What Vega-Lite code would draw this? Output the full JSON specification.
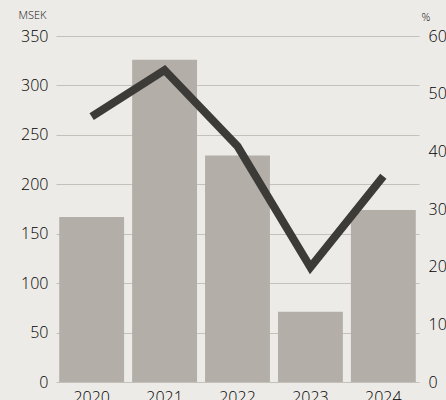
{
  "$schema": "https://vega.github.io/schema/vega-lite/v6.json",
  "autosize": {"type": "none"},
  "padding": {"left": 56, "top": 36, "right": 27, "bottom": 18},
  "width": 363,
  "height": 346,
  "background": "#edebe7",
  "config": {
    "view": {"stroke": null},
    "font": "Open Sans",
    "axis": {"labelFont": "Open Sans", "titleFont": "Open Sans", "labelColor": "#000000", "titleColor": "#111111", "labelFontWeight": 300}
  },
  "data": {
    "values": [
      {"year": "2020", "msek": 167, "pct": 46.0},
      {"year": "2021", "msek": 326, "pct": 54.1},
      {"year": "2022", "msek": 229, "pct": 40.9},
      {"year": "2023", "msek": 71, "pct": 19.9},
      {"year": "2024", "msek": 174, "pct": 35.7}
    ]
  },
  "encoding": {
    "x": {
      "field": "year", "type": "ordinal",
      "scale": {"paddingInner": 0.11, "paddingOuter": 0.044},
      "axis": {"title": null, "labelAngle": 0, "ticks": false, "domain": false, "labelFontSize": 16, "labelPadding": 7, "labelBaseline": "top"}
    }
  },
  "layer": [
    {
      "mark": {"type": "bar", "color": "#b3aea8"},
      "encoding": {
        "y": {
          "field": "msek", "type": "quantitative",
          "scale": {"domain": [0, 350], "nice": false},
          "axis": {
            "values": [0, 50, 100, 150, 200, 250, 300, 350],
            "title": "MSEK", "titleAngle": 0, "titleAlign": "left", "titleBaseline": "alphabetic",
            "titleX": -38, "titleY": -18, "titleFontSize": 11, "titleFontWeight": 300,
            "ticks": false, "domain": false, "labelFontSize": 16, "labelPadding": 8,
            "grid": true, "gridColor": "#c4c1bb", "gridWidth": 1.2
          }
        }
      }
    },
    {
      "mark": {"type": "line", "color": "#3d3b37", "strokeWidth": 8, "strokeJoin": "miter"},
      "encoding": {
        "y": {
          "field": "pct", "type": "quantitative",
          "scale": {"domain": [0, 60], "nice": false},
          "axis": {
            "orient": "right",
            "values": [0, 10, 20, 30, 40, 50, 60],
            "title": "%", "titleAngle": 0, "titleAlign": "left", "titleBaseline": "alphabetic",
            "titleX": 2, "titleY": -16, "titleFontSize": 11, "titleFontWeight": 300,
            "ticks": false, "domain": false, "labelFontSize": 16, "labelPadding": 9, "grid": false
          }
        }
      }
    }
  ],
  "resolve": {"scale": {"y": "independent"}}
}
